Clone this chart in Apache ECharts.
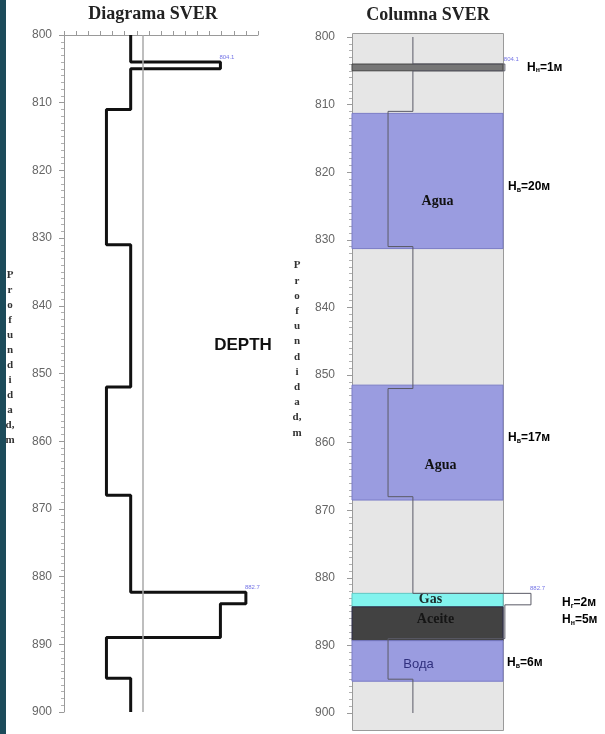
<!DOCTYPE html>
<html>
<head>
<meta charset="utf-8">
<script src="https://cdn.jsdelivr.net/npm/echarts@6/dist/echarts.min.js"></script>
<style>
  html, body { margin: 0; padding: 0; background: #ffffff; }
  #chart { width: 605px; height: 734px; }
</style>
</head>
<body>
<div id="chart"></div>
<script>
// Depth scale (m)
const depthMin = 800;
const depthMax = 900;
const depthStep = 10;

// SVER log, stepwise: reading sverValues[i] between sverTops[i] and sverBottoms[i]
const sverTops    = [800.0, 804.0, 805.0, 811.0, 831.0, 852.0, 868.0, 882.3, 884.0, 889.0, 895.0];
const sverBottoms = [804.0, 805.0, 811.0, 831.0, 852.0, 868.0, 882.3, 884.0, 889.0, 895.0, 900.0];
const sverValues  = [5.5, 12.9, 5.5, 3.5, 5.5, 3.5, 5.5, 15.0, 12.9, 3.5, 5.5];

// Background reference level of the log
const sverBaseline = 6.5;

// Annotated peaks
const peakDepths = [804.1, 882.7];
const peakValues = [12.9, 15.0];
const peakTops   = [804.0, 882.3];

// Interpreted layers of the column
const layerNames   = ['', 'Agua', 'Agua', 'Gas', 'Aceite', 'Вода'];
const layerFluid   = ['н', 'в', 'в', 'г', 'н', 'в'];
const layerTops    = [804.0, 811.3, 851.5, 882.3, 884.3, 889.3];
const layerBottoms = [805.0, 831.3, 868.5, 884.3, 889.3, 895.3];

// Drawing styles per layer (fill, stroke, name text style, thickness label colour, offsets in px)
const serifBold = 'bold 14px "Liberation Serif"';
const layerStyles = [
  { fill: '#767676', stroke: '#444444', nameColor: '#111', nameFont: serifBold, nameDx: 0, nameDy: 0, hColor: '#111111', hDx: 24, hDy: 0 },
  { fill: '#9a9ce0', stroke: '#7a7cc6', nameColor: '#111', nameFont: serifBold, nameDx: 10, nameDy: 20, hColor: '#3434c8', hDx: 5, hDy: 6 },
  { fill: '#9a9ce0', stroke: '#7a7cc6', nameColor: '#111', nameFont: serifBold, nameDx: 13, nameDy: 23, hColor: '#3434c8', hDx: 5, hDy: -5 },
  { fill: '#82f3ee', stroke: '#60c8c4', nameColor: '#1b2a2a', nameFont: serifBold, nameDx: 3, nameDy: -1, hColor: '#56dcdc', hDx: 59, hDy: 3 },
  { fill: '#424242', stroke: '#2a2a4a', nameColor: '#151515', nameFont: serifBold, nameDx: 8, nameDy: -4, hColor: '#111111', hDx: 59, hDy: -4 },
  { fill: '#9a9ce0', stroke: '#7a7cc6', nameColor: '#30307e', nameFont: '13px "Liberation Sans"', nameDx: -9, nameDy: 3, hColor: '#3434c8', hDx: 4, hDy: 2 }
];

// Horizontal extent of the column plot (log units)
const colMin = 0.6;
const colMax = 12.75;

function stepPath() {
  const pts = [];
  for (let i = 0; i < sverValues.length; i++) {
    pts.push([sverValues[i], sverTops[i]]);
    pts.push([sverValues[i], sverBottoms[i]]);
  }
  return pts;
}

const chart = echarts.init(document.getElementById('chart'), null, { renderer: 'canvas' });

const depthAxisCommon = {
  type: 'value',
  inverse: true,
  min: depthMin,
  max: depthMax,
  interval: depthStep,
  axisLine: { show: true, lineStyle: { color: '#9a9a9a', width: 1 } },
  axisTick: { show: true, length: 5, lineStyle: { color: '#9a9a9a' } },
  minorTick: { show: true, splitNumber: 10, length: 3, lineStyle: { color: '#b0b0b0' } },
  splitLine: { show: false },
  axisLabel: { color: '#666666', fontSize: 12, fontFamily: 'Liberation Sans' }
};

const peakLabel = {
  show: true, position: 'right', distance: 0, offset: [-1, -5],
  formatter: p => p.value[2].toFixed(1),
  color: '#5050e0', fontSize: 6, fontFamily: 'Liberation Sans'
};

const option = {
  animation: false,
  backgroundColor: '#ffffff',
  grid: [
    { left: 64, top: 35, width: 194, height: 677 },
    { left: 352, top: 37, width: 151, height: 676 }
  ],
  xAxis: [
    {
      gridIndex: 0, type: 'value', position: 'top', min: 0, max: 16, interval: 1,
      axisLine: { show: true, lineStyle: { color: '#9a9a9a' } },
      axisTick: { show: true, length: 4, lineStyle: { color: '#9a9a9a' } },
      axisLabel: { show: false },
      splitLine: { show: false }
    },
    { gridIndex: 1, type: 'value', min: colMin, max: colMax, show: false }
  ],
  yAxis: [
    Object.assign({}, depthAxisCommon, { gridIndex: 0, axisLabel: Object.assign({}, depthAxisCommon.axisLabel, { margin: 12 }) }),
    Object.assign({}, depthAxisCommon, { gridIndex: 1, axisLabel: Object.assign({}, depthAxisCommon.axisLabel, { margin: 17 }) })
  ],
  graphic: [
    { type: 'rect', left: 0, top: 0, shape: { width: 6, height: 734 }, style: { fill: '#1c4b5a' }, z: 0 },
    { type: 'rect', left: 352, top: 33, shape: { width: 151, height: 697 }, style: { fill: '#e6e6e6', stroke: '#9a9a9a', lineWidth: 1 }, z: 0 },
    { type: 'text', x: 153, y: 14, style: { text: 'Diagrama SVER', font: 'bold 18px "Liberation Serif"', fill: '#222', align: 'center', verticalAlign: 'middle' }, z: 5 },
    { type: 'text', x: 428, y: 15, style: { text: 'Columna SVER', font: 'bold 18px "Liberation Serif"', fill: '#222', align: 'center', verticalAlign: 'middle' }, z: 5 },
    { type: 'text', x: 243, y: 345, style: { text: 'DEPTH', font: 'bold 17px "Liberation Sans"', fill: '#111', align: 'center', verticalAlign: 'middle' }, z: 5 },
    { type: 'text', x: 10, y: 268, style: { text: 'P\nr\no\nf\nu\nn\nd\ni\nd\na\nd,\nm', font: 'bold 11px "Liberation Serif"', lineHeight: 15, fill: '#333', align: 'center', verticalAlign: 'top' }, z: 5 },
    { type: 'text', x: 297, y: 258, style: { text: 'P\nr\no\nf\nu\nn\nd\ni\nd\na\nd,\nm', font: 'bold 11px "Liberation Serif"', lineHeight: 15.2, fill: '#333', align: 'center', verticalAlign: 'top' }, z: 5 }
  ],
  series: [
    // SVER log curve
    {
      type: 'line', xAxisIndex: 0, yAxisIndex: 0,
      data: stepPath(),
      showSymbol: false, symbol: 'none',
      lineStyle: { color: '#111111', width: 3 },
      z: 4,
      markLine: {
        silent: true, symbol: 'none', label: { show: false },
        lineStyle: { color: '#a8a8a8', width: 1.5, type: 'solid' },
        data: [{ xAxis: sverBaseline }]
      }
    },
    // Peak depth annotations on the log
    {
      type: 'scatter', xAxisIndex: 0, yAxisIndex: 0, clip: false,
      data: peakValues.map((v, i) => [v, peakTops[i], peakDepths[i]]),
      symbolSize: 0,
      label: peakLabel,
      z: 6
    },
    // Layers of the column
    {
      type: 'custom', xAxisIndex: 1, yAxisIndex: 1, clip: false,
      data: layerTops.map((t, i) => [i, t, layerBottoms[i]]),
      encode: { x: -1, y: [1, 2] },
      renderItem: function (params, api) {
        const i = api.value(0);
        const top = api.value(1);
        const bottom = api.value(2);
        const st = layerStyles[i];
        const p0 = api.coord([colMin, top]);
        const p1 = api.coord([colMax, bottom]);
        const midY = (p0[1] + p1[1]) / 2;
        const midX = (p0[0] + p1[0]) / 2;
        const thick = Math.round(bottom - top);
        const children = [
          {
            type: 'rect',
            shape: { x: p0[0], y: p0[1], width: p1[0] - p0[0], height: p1[1] - p0[1] },
            style: { fill: st.fill, stroke: st.stroke, lineWidth: 1 }
          }
        ];
        if (layerNames[i]) {
          children.push({
            type: 'text',
            style: {
              text: layerNames[i], x: midX + st.nameDx, y: midY + st.nameDy,
              font: st.nameFont, fill: st.nameColor, align: 'center', verticalAlign: 'middle'
            },
            z2: 10
          });
        }
        children.push({
          type: 'text',
          style: {
            text: '{h|H}{s|' + layerFluid[i] + '}{h|=' + thick + 'м}',
            x: p1[0] + st.hDx, y: midY + st.hDy,
            align: 'left', verticalAlign: 'middle',
            rich: {
              h: { fontSize: 12, fontWeight: 'bold', fontFamily: 'Liberation Sans', color: st.hColor },
              s: { fontSize: 7, fontWeight: 'bold', fontFamily: 'Liberation Sans', color: st.hColor, padding: [6, 0, 0, 0] }
            }
          },
          z2: 10
        });
        return { type: 'group', children: children };
      },
      z: 3
    },
    // SVER trace inside the column (allowed to run past the frame)
    {
      type: 'custom', xAxisIndex: 1, yAxisIndex: 1, clip: false,
      data: [[sverValues[0], sverTops[0]]],
      encode: { x: 0, y: 1 },
      renderItem: function (params, api) {
        const pts = stepPath().map(p => api.coord(p));
        return {
          type: 'polyline',
          shape: { points: pts },
          style: { stroke: '#5a5a66', lineWidth: 1, fill: null }
        };
      },
      z: 4
    },
    // Peak depth annotations beside the column
    {
      type: 'scatter', xAxisIndex: 1, yAxisIndex: 1, clip: false,
      data: peakValues.map((v, i) => [v, peakTops[i], peakDepths[i]]),
      symbolSize: 0,
      label: peakLabel,
      z: 6
    }
  ]
};

chart.setOption(option);
</script>
</body>
</html>
